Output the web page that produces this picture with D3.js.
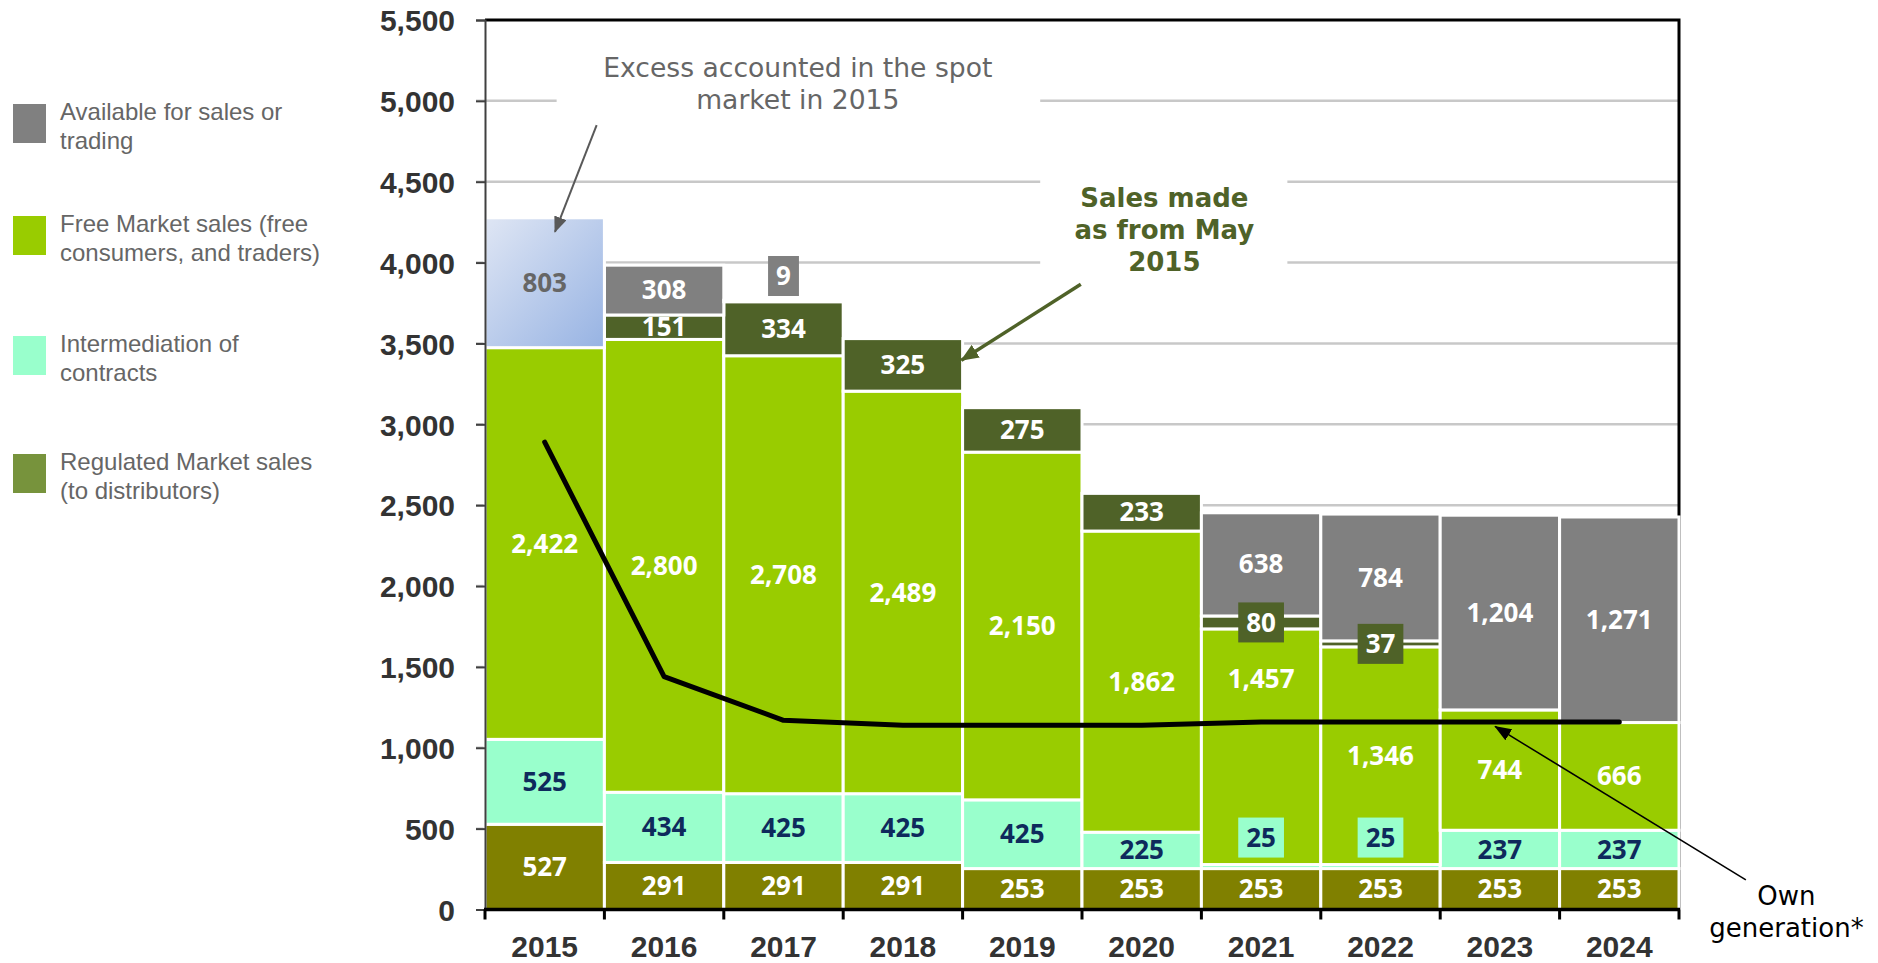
<!DOCTYPE html>
<html>
<head>
<meta charset="utf-8">
<script src="https://cdn.jsdelivr.net/npm/d3@7"></script>
<style>
  body { margin: 0; background: #fff; }
</style>
</head>
<body>
<div id="chart"></div>
<script>
// Data (GWh per year)
const years = ['2015', '2016', '2017', '2018', '2019', '2020', '2021', '2022', '2023', '2024']
const regulated = [527, 291, 291, 291, 253, 253, 253, 253, 253, 253]
const intermediation = [525, 434, 425, 425, 425, 225, 25, 25, 237, 237]
const freeMarket = [2422, 2800, 2708, 2489, 2150, 1862, 1457, 1346, 744, 666]
const salesMay2015 = [0, 151, 334, 325, 275, 233, 80, 37, 0, 0]
const available = [0, 308, 9, 0, 0, 0, 638, 784, 1204, 1271]
const spotExcess = [803, 0, 0, 0, 0, 0, 0, 0, 0, 0]
const ownGeneration = [2890, 1440, 1170, 1140, 1140, 1140, 1160, 1160, 1160, 1160]
const yTicks = [0, 500, 1000, 1500, 2000, 2500, 3000, 3500, 4000, 4500, 5000, 5500]

const legendLabels = [
  ['Available for sales or', 'trading'],
  ['Free Market sales (free', 'consumers, and traders)'],
  ['Intermediation of', 'contracts'],
  ['Regulated Market sales', '(to distributors)']
]

const keys = ['regulated', 'intermediation', 'freeMarket', 'salesMay2015', 'available', 'spotExcess']
const table = years.map((year, i) => ({
  year,
  regulated: regulated[i],
  intermediation: intermediation[i],
  freeMarket: freeMarket[i],
  salesMay2015: salesMay2015[i],
  available: available[i],
  spotExcess: spotExcess[i]
}))

const fills = {
  regulated: '#808000',
  intermediation: '#99FFCC',
  freeMarket: '#99CC00',
  salesMay2015: '#4F6228',
  available: '#808080',
  spotExcess: 'url(#excessGrad)'
}
const labelColors = {
  intermediation: '#0E2A5C',
  spotExcess: '#666666'
}
const legendColors = ['#808080', '#99CC00', '#99FFCC', '#77933C']

// small pixel nudges for labels that were moved in the original
const labelNudge = { '2017|available': -25, '2021|freeMarket': -68, '2021|intermediation': -29, '2022|intermediation': -29 }

const width = 1878
const height = 963

const svg = d3.select('#chart').append('svg').attr('width', width).attr('height', height)

const defs = svg.append('defs')
const grad = defs.append('linearGradient').attr('id', 'excessGrad')
  .attr('x1', '0%').attr('y1', '0%').attr('x2', '100%').attr('y2', '100%')
grad.append('stop').attr('offset', '0%').attr('stop-color', '#DFE6F4')
grad.append('stop').attr('offset', '100%').attr('stop-color', '#97B3E3')

function arrowMarker(id, color, w, h) {
  defs.append('marker')
    .attr('id', id)
    .attr('markerUnits', 'userSpaceOnUse')
    .attr('markerWidth', w)
    .attr('markerHeight', h)
    .attr('viewBox', `0 0 ${w} ${h}`)
    .attr('refX', w - 1)
    .attr('refY', h / 2)
    .attr('orient', 'auto')
    .append('path')
    .attr('d', `M0,0 L${w},${h / 2} L0,${h} Z`)
    .attr('fill', color)
}
arrowMarker('arrowGray', '#595959', 16, 13)
arrowMarker('arrowGreen', '#4F6228', 18, 15)
arrowMarker('arrowBlack', '#000', 17, 13)

const x = d3.scaleBand().domain(years).range([485, 1679]).padding(0)
const y = d3.scaleLinear().domain([0, 5500]).range([909.5, 20])
const bw = x.bandwidth()
const bx = (i) => x.range()[0] + i * bw // fractional band position for annotations

// Legend
const legend = svg.append('g')
legendLabels.forEach((lines, i) => {
  const top = [104, 216, 336, 454][i]
  legend.append('rect')
    .attr('x', 13).attr('y', top).attr('width', 33).attr('height', 39)
    .attr('fill', legendColors[i])
  lines.forEach((t, j) => {
    legend.append('text')
      .attr('x', 60).attr('y', top + 16 + j * 29)
      .attr('font-family', 'Liberation Sans, Arial, sans-serif')
      .attr('font-size', '24px')
      .attr('fill', '#666')
      .text(t)
  })
})

// Gridlines
svg.append('g').selectAll('line')
  .data(yTicks.filter(v => v > 0 && v < 5500))
  .join('line')
  .attr('x1', 476).attr('x2', x.range()[1])
  .attr('y1', d => y(d)).attr('y2', d => y(d))
  .attr('stroke', '#C8C8C8').attr('stroke-width', 2.5)

// Plot frame (top and right)
svg.append('path')
  .attr('d', `M${x.range()[0]},${y(5500)} H${x.range()[1]} V${y(0)}`)
  .attr('fill', 'none').attr('stroke', '#000').attr('stroke-width', 3)

// Annotation backgrounds (hide gridlines behind the notes)
svg.append('rect')
  .attr('x', bx(0.6)).attr('y', y(5390)).attr('width', bx(4.65) - bx(0.6)).attr('height', y(4880) - y(5390))
  .attr('fill', '#fff')
svg.append('rect')
  .attr('x', bx(4.65)).attr('y', y(4760)).attr('width', bx(6.72) - bx(4.65)).attr('height', y(3790) - y(4760))
  .attr('fill', '#fff')

// Stacked bars
const series = d3.stack().keys(keys)(table)
svg.append('g').selectAll('g')
  .data(series)
  .join('g')
  .attr('fill', s => fills[s.key])
  .selectAll('rect')
  .data(s => s.filter(d => d[1] - d[0] > 0))
  .join('rect')
  .attr('x', d => x(d.data.year))
  .attr('y', d => y(d[1]))
  .attr('width', bw)
  .attr('height', d => y(d[0]) - y(d[1]))
  .attr('stroke', '#fff')
  .attr('stroke-width', 3)

// Y axis
const yAxis = svg.append('g')
  .attr('transform', `translate(${x.range()[0]},0)`)
  .call(d3.axisLeft(y).tickValues(yTicks).tickFormat(d3.format(',')).tickSize(9).tickPadding(21))
yAxis.select('.domain').attr('stroke', '#404040').attr('stroke-width', 2)
yAxis.selectAll('.tick line').attr('stroke', '#404040').attr('stroke-width', 2)
yAxis.selectAll('.tick text')
  .attr('font-family', 'Liberation Sans, Arial, sans-serif')
  .attr('font-size', '30px')
  .attr('font-weight', 'bold')
  .attr('fill', '#333')
  .attr('dy', '0.36em')

// X axis
svg.append('line')
  .attr('x1', x.range()[0] - 1).attr('x2', x.range()[1] + 1)
  .attr('y1', y(0)).attr('y2', y(0))
  .attr('stroke', '#000').attr('stroke-width', 3.5)
svg.append('g').selectAll('line')
  .data(years.map(d => x(d)).concat([x.range()[1]]))
  .join('line')
  .attr('x1', d => d).attr('x2', d => d)
  .attr('y1', y(0)).attr('y2', y(0) + 10)
  .attr('stroke', '#000').attr('stroke-width', 3)
svg.append('g').selectAll('text')
  .data(years)
  .join('text')
  .attr('x', d => x(d) + bw / 2)
  .attr('y', 957)
  .attr('text-anchor', 'middle')
  .attr('font-family', 'Liberation Sans, Arial, sans-serif')
  .attr('font-size', '30px')
  .attr('font-weight', 'bold')
  .attr('fill', '#333')
  .text(d => d)

// Own generation line
const ownData = years.map((year, i) => ({ year, value: ownGeneration[i] }))
svg.append('path')
  .datum(ownData)
  .attr('fill', 'none')
  .attr('stroke', '#000')
  .attr('stroke-width', 5)
  .attr('stroke-linejoin', 'round')
  .attr('stroke-linecap', 'round')
  .attr('d', d3.line().x(d => x(d.year) + bw / 2).y(d => y(d.value)))

// Value labels
const labels = svg.append('g')
series.forEach(s => {
  s.forEach(d => {
    const v = d[1] - d[0]
    if (v <= 0) return
    const h = y(d[0]) - y(d[1])
    const cx = x(d.data.year) + bw / 2
    const cy = (y(d[0]) + y(d[1])) / 2 + (labelNudge[d.data.year + '|' + s.key] || 0)
    const g = labels.append('g')
    const t = g.append('text')
      .attr('x', cx).attr('y', cy).attr('dy', '0.35em')
      .attr('text-anchor', 'middle')
      .attr('font-family', 'Open Sans, sans-serif')
      .attr('font-weight', 700)
      .attr('font-size', '26px')
      .attr('fill', labelColors[s.key] || '#fff')
      .text(d3.format(',')(v))
    if (h < 20) {
      const tw = t.node().getComputedTextLength()
      const boxW = Math.max(30, tw + 16)
      g.insert('rect', 'text')
        .attr('x', cx - boxW / 2).attr('y', cy - 20)
        .attr('width', boxW).attr('height', 40)
        .attr('fill', fills[s.key])
    }
  })
})

// Annotations
const note = svg.append('g').attr('font-family', 'DejaVu Sans, Verdana, sans-serif')
note.append('text')
  .attr('x', bx(2.62)).attr('text-anchor', 'middle')
  .attr('font-size', '26.6px').attr('fill', '#666')
  .selectAll('tspan')
  .data(['Excess accounted in the spot', 'market in 2015'])
  .join('tspan')
  .attr('x', bx(2.62))
  .attr('y', (d, i) => 77 + i * 32)
  .text(d => d)

note.append('text')
  .attr('text-anchor', 'middle')
  .attr('font-size', '26px').attr('font-weight', 'bold').attr('fill', '#4F6228')
  .selectAll('tspan')
  .data(['Sales made', 'as from May', '2015'])
  .join('tspan')
  .attr('x', bx(5.69))
  .attr('y', (d, i) => 207 + i * 32)
  .text(d => d)

note.append('text')
  .attr('text-anchor', 'middle')
  .attr('font-size', '26px').attr('fill', '#000')
  .selectAll('tspan')
  .data(['Own', 'generation*'])
  .join('tspan')
  .attr('x', bx(10.9))
  .attr('y', (d, i) => y(0) - 4.5 + i * 32)
  .text(d => d)

note.append('line')
  .attr('x1', bx(0.935)).attr('y1', y(4850))
  .attr('x2', bx(0.586)).attr('y2', y(4190))
  .attr('stroke', '#595959').attr('stroke-width', 2)
  .attr('marker-end', 'url(#arrowGray)')

note.append('line')
  .attr('x1', bx(4.99)).attr('y1', y(3866))
  .attr('x2', bx(3.99)).attr('y2', y(3396))
  .attr('stroke', '#4F6228').attr('stroke-width', 3.5)
  .attr('marker-end', 'url(#arrowGreen)')

note.append('line')
  .attr('x1', bx(10.56)).attr('y1', y(183))
  .attr('x2', bx(8.46)).attr('y2', y(1132))
  .attr('stroke', '#000').attr('stroke-width', 1.6)
  .attr('marker-end', 'url(#arrowBlack)')
</script>
</body>
</html>
